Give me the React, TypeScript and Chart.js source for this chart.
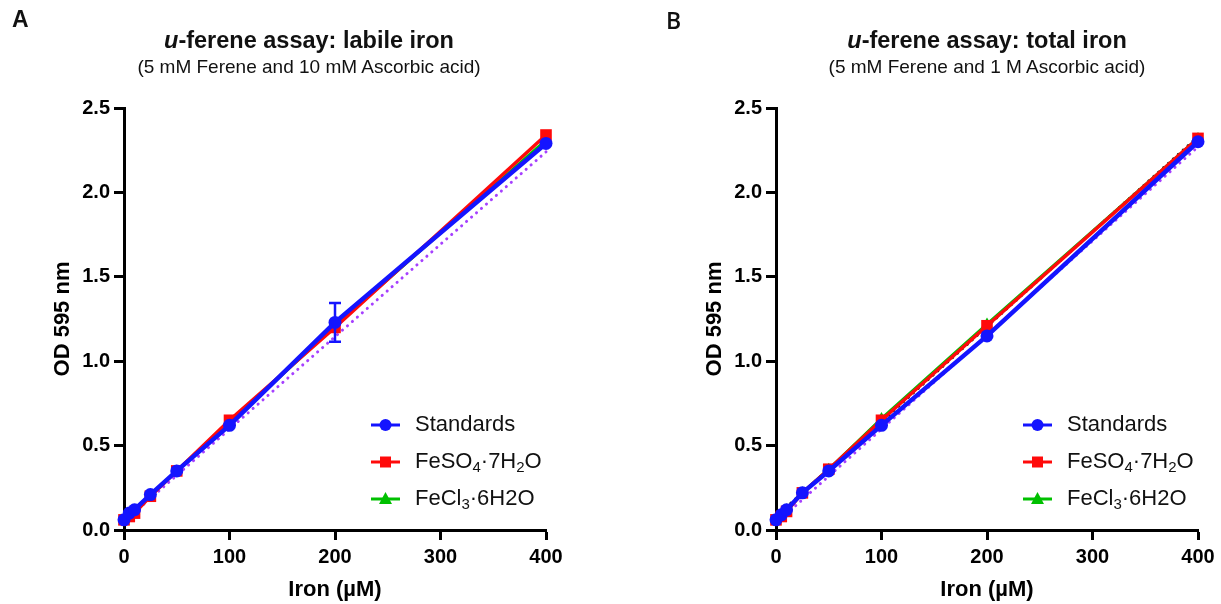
import React, { useEffect, useRef } from "react";
import { Chart, registerables } from "chart.js";

Chart.register(...registerables);

// ---------- data ----------
const ironConc = [0, 5, 10, 25, 50, 100, 200, 400];
const xTicks = [0, 100, 200, 300, 400];
const yTicks = [0, 0.5, 1.0, 1.5, 2.0, 2.5];
const fitX = [0, 400];

// Panel A: labile iron
const labileStandards = [0.06, 0.1, 0.12, 0.21, 0.35, 0.62, 1.23, 2.29];
const labileStandardsErr = [0, 0, 0, 0, 0, 0, 0.115, 0];
const labileFeSO4 = [0.06, 0.08, 0.1, 0.2, 0.35, 0.65, 1.2, 2.34];
const labileFeCl3 = [0.05, 0.08, 0.11, 0.21, 0.35, 0.63, 1.21, 2.31];
const labileFitPurple = [0.05, 2.24];

// Panel B: total iron
const totalStandards = [0.06, 0.09, 0.12, 0.22, 0.35, 0.62, 1.15, 2.3];
const totalStandardsErr = [0, 0, 0, 0, 0, 0, 0, 0];
const totalFeSO4 = [0.06, 0.08, 0.11, 0.22, 0.36, 0.65, 1.21, 2.32];
const totalFeCl3 = [0.06, 0.09, 0.12, 0.22, 0.36, 0.66, 1.22, 2.32];
const totalFitPurple = [0.04, 2.27];
const totalFitBlack = [0.08, 2.33];

// legend labels: [text, isSubscript]
const legendStandards: [string, boolean][] = [["Standards", false]];
const legendFeSO4: [string, boolean][] = [["FeSO", false], ["4", true], ["·7H", false], ["2", true], ["O", false]];
const legendFeCl3: [string, boolean][] = [["FeCl", false], ["3", true], ["·6H2O", false]];

// ---------- styles ----------
const FONT = '"Liberation Sans", Arial, Helvetica, sans-serif';
const BLUE = "#1414ff";
const RED = "#ff0a0a";
const GREEN = "#00c000";
const PURPLE = "#a640ff";
const BLACK = "#1a1a1a";

type Panel = {
  std: number[];
  stdErr: number[];
  so4: number[];
  cl3: number[];
  fits: { ys: number[]; color: string }[];
  padLeft: number;
  padRight: number;
  width: number;
};

function drawMarker(ctx: CanvasRenderingContext2D, style: string, x: number, y: number, color: string) {
  ctx.save();
  ctx.fillStyle = color;
  ctx.beginPath();
  if (style === "circle") {
    ctx.arc(x, y, 6, 0, Math.PI * 2);
  } else if (style === "rect") {
    ctx.rect(x - 5.5, y - 5.5, 11, 11);
  } else {
    ctx.moveTo(x, y - 7);
    ctx.lineTo(x + 6.5, y + 5);
    ctx.lineTo(x - 6.5, y + 5);
    ctx.closePath();
  }
  ctx.fill();
  ctx.restore();
}

const insideLegend = {
  id: "insideLegend",
  afterDraw(chart: any) {
    const { ctx, chartArea } = chart;
    const items = [
      { label: legendStandards, color: BLUE, style: "circle" },
      { label: legendFeSO4, color: RED, style: "rect" },
      { label: legendFeCl3, color: GREEN, style: "triangle" },
    ];
    items.forEach((it, i) => {
      const y = chartArea.bottom - 105 + i * 37;
      const x0 = chartArea.right - 175;
      ctx.save();
      ctx.strokeStyle = it.color;
      ctx.lineWidth = 3;
      ctx.beginPath();
      ctx.moveTo(x0, y);
      ctx.lineTo(x0 + 29, y);
      ctx.stroke();
      ctx.restore();
      drawMarker(ctx, it.style, x0 + 14.5, y, it.color);
      let tx = chartArea.right - 131;
      ctx.save();
      ctx.fillStyle = "#111";
      ctx.textBaseline = "middle";
      ctx.textAlign = "left";
      it.label.forEach(([t, sub]) => {
        ctx.font = sub ? `15px ${FONT}` : `22px ${FONT}`;
        ctx.fillText(t, tx, sub ? y + 6 : y);
        tx += ctx.measureText(t).width;
      });
      ctx.restore();
    });
  },
};

const errorBars = {
  id: "errorBars",
  afterDatasetsDraw(chart: any) {
    const errs: number[] = chart.options.plugins.errorBars.errs;
    const ds = chart.data.datasets[0];
    const { ctx, scales } = chart;
    ctx.save();
    ctx.strokeStyle = BLUE;
    ctx.lineWidth = 2.5;
    ds.data.forEach((p: any, i: number) => {
      const e = errs[i];
      if (!e) return;
      const x = scales.x.getPixelForValue(p.x);
      const y1 = scales.y.getPixelForValue(p.y + e);
      const y2 = scales.y.getPixelForValue(p.y - e);
      ctx.beginPath();
      ctx.moveTo(x, y1);
      ctx.lineTo(x, y2);
      ctx.moveTo(x - 6, y1);
      ctx.lineTo(x + 6, y1);
      ctx.moveTo(x - 6, y2);
      ctx.lineTo(x + 6, y2);
      ctx.stroke();
    });
    ctx.restore();
  },
};

function pts(ys: number[]) {
  return ironConc.map((x, i) => ({ x, y: ys[i] }));
}

function buildConfig(p: Panel): any {
  const datasets: any[] = [
    {
      label: "Standards",
      data: pts(p.std),
      borderColor: BLUE,
      backgroundColor: BLUE,
      borderWidth: 4.5,
      pointStyle: "circle",
      pointRadius: 6.5,
      pointBorderWidth: 0,
      showLine: true,
      clip: false,
      order: 0,
    },
    {
      label: "FeSO4·7H2O",
      data: pts(p.so4),
      borderColor: RED,
      backgroundColor: RED,
      borderWidth: 3.5,
      pointStyle: "rect",
      pointRadius: 8.2,
      pointBorderWidth: 0,
      showLine: true,
      clip: false,
      order: 1,
    },
    {
      label: "FeCl3·6H2O",
      data: pts(p.cl3),
      borderColor: GREEN,
      backgroundColor: GREEN,
      borderWidth: 3,
      pointStyle: "triangle",
      pointRadius: 6.5,
      pointBorderWidth: 0,
      showLine: true,
      clip: false,
      order: 2,
    },
  ];
  p.fits.forEach((f, k) => {
    datasets.push({
      label: "fit" + k,
      data: fitX.map((x, i) => ({ x, y: f.ys[i] })),
      borderColor: f.color,
      backgroundColor: f.color,
      borderWidth: 3,
      borderDash: [0.1, 6.5],
      borderCapStyle: "round",
      pointRadius: 0,
      showLine: true,
      clip: false,
      order: 3 + k,
    });
  });

  const tickFont = { family: FONT, size: 20, weight: "bold" };
  const titleFont = { family: FONT, size: 22, weight: "bold" };
  const grid = {
    display: true,
    drawOnChartArea: false,
    drawTicks: true,
    tickLength: 10,
    tickWidth: 3,
    tickColor: "#000",
  };
  const border = { display: true, color: "#000", width: 3 };

  return {
    type: "scatter",
    data: { datasets },
    plugins: [errorBars, insideLegend],
    options: {
      responsive: false,
      animation: false,
      devicePixelRatio: 1,
      layout: { padding: { top: 108, right: p.padRight, left: p.padLeft, bottom: 0 } },
      plugins: {
        legend: { display: false },
        tooltip: { enabled: false },
        title: { display: false },
        errorBars: { errs: p.stdErr },
      },
      scales: {
        x: {
          type: "linear",
          min: 0,
          max: 400,
          afterBuildTicks: (s: any) => {
            s.ticks = xTicks.map((v) => ({ value: v }));
          },
          afterFit: (s: any) => {
            s.height = 74;
          },
          ticks: { color: "#000", font: tickFont, padding: 5, maxRotation: 0, autoSkip: false },
          grid,
          border,
          title: {
            display: true,
            text: "Iron (µM)",
            color: "#000",
            font: titleFont,
            padding: { top: 0, bottom: 1 },
          },
        },
        y: {
          type: "linear",
          min: 0,
          max: 2.5,
          afterBuildTicks: (s: any) => {
            s.ticks = yTicks.map((v) => ({ value: v }));
          },
          afterFit: (s: any) => {
            s.width = 124;
          },
          ticks: {
            color: "#000",
            font: tickFont,
            padding: 4,
            autoSkip: false,
            callback: (v: any) => Number(v).toFixed(1),
          },
          grid,
          border,
          title: {
            display: true,
            text: "OD 595 nm",
            color: "#000",
            font: titleFont,
            padding: { top: 50, bottom: 0 },
          },
        },
      },
    },
  };
}

const panelA: Panel = {
  std: labileStandards,
  stdErr: labileStandardsErr,
  so4: labileFeSO4,
  cl3: labileFeCl3,
  fits: [{ ys: labileFitPurple, color: PURPLE }],
  padLeft: 0,
  padRight: 64,
  width: 610,
};

const panelB: Panel = {
  std: totalStandards,
  stdErr: totalStandardsErr,
  so4: totalFeSO4,
  cl3: totalFeCl3,
  fits: [
    { ys: totalFitPurple, color: PURPLE },
    { ys: totalFitBlack, color: BLACK },
  ],
  padLeft: 42,
  padRight: 23,
  width: 611,
};

function ChartPanel({ panel, left }: { panel: Panel; left: number }) {
  const ref = useRef<HTMLCanvasElement | null>(null);
  useEffect(() => {
    if (!ref.current) return;
    const chart = new Chart(ref.current, buildConfig(panel));
    return () => chart.destroy();
  }, [panel]);
  return (
    <canvas
      ref={ref}
      width={panel.width}
      height={604}
      style={{ position: "absolute", left, top: 0, width: panel.width, height: 604 }}
    />
  );
}

function Heading({ cx, title, subtitle }: { cx: number; title: string; subtitle: string }) {
  return (
    <>
      <div
        style={{
          position: "absolute",
          left: cx - 300,
          width: 600,
          top: 28,
          textAlign: "center",
          fontFamily: FONT,
          fontWeight: "bold",
          fontSize: 23.5,
          lineHeight: "25px",
          color: "#111",
        }}
      >
        <i>u</i>
        {title}
      </div>
      <div
        style={{
          position: "absolute",
          left: cx - 300,
          width: 600,
          top: 57,
          textAlign: "center",
          fontFamily: FONT,
          fontSize: 19,
          lineHeight: "20px",
          color: "#111",
        }}
      >
        {subtitle}
      </div>
    </>
  );
}

export default function App() {
  useEffect(() => {
    document.body.style.margin = "0";
  }, []);
  return (
    <div style={{ position: "relative", width: 1221, height: 604, background: "#fff", overflow: "hidden" }}>
      <ChartPanel panel={panelA} left={0} />
      <ChartPanel panel={panelB} left={610} />
      <div style={{ position: "absolute", left: 12, top: 6, fontFamily: FONT, fontWeight: "bold", fontSize: 23, color: "#111" }}>
        A
      </div>
      <div style={{ position: "absolute", left: 666, top: 4, fontFamily: '"Open Sans", sans-serif', fontWeight: 600, fontSize: 23, color: "#111" }}>
        B
      </div>
      <Heading cx={309} title="-ferene assay: labile iron" subtitle="(5 mM Ferene and 10 mM Ascorbic acid)" />
      <Heading cx={987} title="-ferene assay: total iron" subtitle="(5 mM Ferene and 1 M Ascorbic acid)" />
    </div>
  );
}
